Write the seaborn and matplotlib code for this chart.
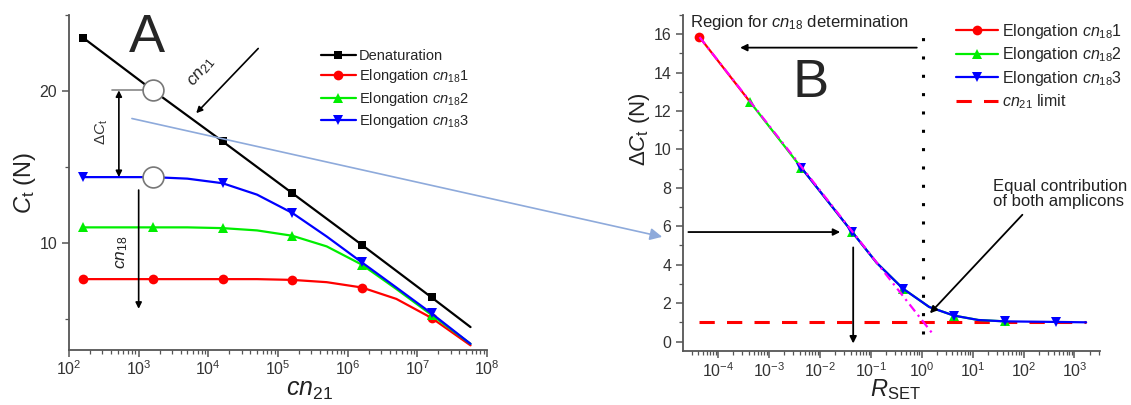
import numpy as np
import pandas as pd
import matplotlib
matplotlib.use("Agg")
import matplotlib.pyplot as plt
import seaborn as sns
from matplotlib.patches import ConnectionPatch
from matplotlib.ticker import LogLocator, MultipleLocator, NullFormatter, FixedLocator

# ---------------- Panel A data ----------------
den_x = [1.6e2, 1.6e3, 1.6e4, 1.6e5, 1.6e6, 1.6e7, 5.8e7]
den_y = [23.5, 20.05, 16.7, 13.3, 9.9, 6.45, 4.5]
den_marks = [0, 1, 2, 3, 4, 5]

el_x = [1.6e2, 1.6e3, 5e3, 1.6e4, 5e4, 1.6e5, 5e5, 1.6e6, 5e6, 1.6e7, 5.8e7]
el1_y = [7.65, 7.65, 7.65, 7.65, 7.65, 7.6, 7.45, 7.1, 6.35, 5.1, 3.3]
el2_y = [11.05, 11.05, 11.05, 11.0, 10.85, 10.5, 9.8, 8.6, 7.0, 5.3, 3.4]
el3_y = [14.35, 14.35, 14.25, 13.95, 13.2, 12.0, 10.45, 8.75, 7.1, 5.4, 3.4]
el_marks = [0, 1, 3, 5, 7, 9]

circ_x = [1.6e3, 1.6e3]
circ_y = [20.05, 14.35]

xticks_a = [1e2, 1e3, 1e4, 1e5, 1e6, 1e7, 1e8]

# ---------------- Panel B data ----------------
r1_x = [4.3e-5, 4.3e-4]
r1_y = [15.85, 12.45]
r1_marks = [0]
r2_x = [4.3e-4, 4.3e-3, 4.3e-2, 1.3e-1, 4.3e-1, 1.4, 4.3, 13, 43]
r2_y = [12.45, 9.05, 5.7, 4.1, 2.75, 1.8, 1.35, 1.12, 1.05]
r2_marks = [0, 1, 2, 4, 6, 8]
r3_x = [4.3e-3, 4.3e-2, 1.3e-1, 4.3e-1, 1.4, 4.3, 13, 43, 430, 1.7e3]
r3_y = [9.05, 5.7, 4.1, 2.75, 1.8, 1.35, 1.12, 1.05, 1.02, 1.0]
r3_marks = [0, 1, 3, 5, 7, 8]
ext_x = [4.3e-5, 1.7]
ext_y = [15.85, 0.35]
limit_x = [4.3e-5, 1.7e3]
limit_y = [1.0, 1.0]
equal_x = [1.05, 1.05]
equal_y = [0.4, 16.6]

xticks_b = [1e-4, 1e-3, 1e-2, 1e-1, 1e0, 1e1, 1e2, 1e3]

# ---------------- style ----------------
sns.set_style("ticks")
plt.rcParams['font.family'] = ['Liberation Sans', 'DejaVu Sans']
plt.rcParams['mathtext.fontset'] = 'custom'
plt.rcParams['mathtext.rm'] = 'Liberation Sans'
plt.rcParams['mathtext.it'] = 'Liberation Sans:italic'
plt.rcParams['mathtext.bf'] = 'Liberation Sans:bold'
plt.rcParams['axes.edgecolor'] = '#555555'
plt.rcParams['xtick.color'] = '#555555'
plt.rcParams['ytick.color'] = '#555555'
plt.rcParams['xtick.labelcolor'] = '#333333'
plt.rcParams['ytick.labelcolor'] = '#333333'

fig = plt.figure(figsize=(11.31, 4.05), dpi=100)
ax1 = fig.add_axes([0.061, 0.136, 0.3696, 0.827])
ax2 = fig.add_axes([0.604, 0.133, 0.3687, 0.830])

RED, GREEN, BLUE = '#ff0000', '#00ee00', '#0000ff'
lw = 1.6

# ---------------- Panel A ----------------
ax1.set_xscale('log')
sns.lineplot(x=den_x, y=den_y, ax=ax1, color='black', marker='s', markersize=6,
             markevery=den_marks, lw=lw, label='Denaturation', markeredgewidth=0)
sns.lineplot(x=el_x, y=el1_y, ax=ax1, color=RED, marker='o', markersize=7,
             markevery=el_marks, lw=lw, label=r'Elongation $\mathit{cn}_{\mathrm{18}}$1', markeredgewidth=0)
sns.lineplot(x=el_x, y=el2_y, ax=ax1, color=GREEN, marker='^', markersize=7,
             markevery=el_marks, lw=lw, label=r'Elongation $\mathit{cn}_{\mathrm{18}}$2', markeredgewidth=0)
sns.lineplot(x=el_x, y=el3_y, ax=ax1, color=BLUE, marker='v', markersize=7,
             markevery=el_marks, lw=lw, label=r'Elongation $\mathit{cn}_{\mathrm{18}}$3', markeredgewidth=0)
ax1.plot(circ_x, circ_y, ls='none', marker='o', markersize=15, mfc='white',
         mec='#777777', mew=1.2, zorder=6)

ax1.set_xlim(1e2, 1e8)
ax1.set_ylim(3, 25)
ax1.yaxis.set_major_locator(FixedLocator([10, 20]))
ax1.yaxis.set_minor_locator(FixedLocator([5, 15, 25]))
ax1.xaxis.set_major_locator(FixedLocator(xticks_a))
ax1.xaxis.set_minor_locator(LogLocator(base=10, subs=np.arange(2, 10), numticks=100))
ax1.xaxis.set_minor_formatter(NullFormatter())

# annotations A
ax1.plot([410, 1.6e3], [20.05, 20.05], color='#888888', lw=1.2, zorder=1)
ax1.annotate('', xy=(520, 14.35), xytext=(520, 20.05),
             arrowprops=dict(arrowstyle='<|-|>', color='black', lw=1.2, mutation_scale=9,
                             shrinkA=0, shrinkB=0))
ax1.text(296, 17.3, r'$\Delta C_{\mathrm{t}}$', rotation=90, ha='center', va='center',
         fontsize=11, color='#333333')
ax1.annotate('', xy=(1e3, 5.7), xytext=(1e3, 13.5),
             arrowprops=dict(arrowstyle='-|>', color='black', lw=1.2, mutation_scale=9,
                             shrinkA=0, shrinkB=0))
ax1.text(570, 9.4, r'$\mathit{cn}_{\mathrm{18}}$', rotation=90, ha='center', va='center',
         fontsize=12.5, color='#222222')
ax1.annotate('', xy=(6.7e3, 18.55), xytext=(5.2e4, 22.8),
             arrowprops=dict(arrowstyle='-|>', color='black', lw=1.2, mutation_scale=9,
                             shrinkA=0, shrinkB=0))
ax1.text(8.1e3, 21.25, r'$\mathit{cn}_{\mathrm{21}}$', rotation=50, ha='center', va='center',
         fontsize=12.5, color='#222222')
ax1.text(0.187, 0.931, 'A', transform=ax1.transAxes, fontsize=39, ha='center', va='center')

ax1.set_ylabel(r'$C_{\mathrm{t}}$ (N)', fontsize=17, color='#222222')
ax1.yaxis.set_label_coords(-0.075, 0.5)
ax1.set_xlabel(r'$\mathit{cn}_{\mathrm{21}}$', fontsize=18, color='#222222')
ax1.xaxis.set_label_coords(0.575, -0.085)

leg1 = ax1.legend(loc='upper left', bbox_to_anchor=(321 / 1131, 1 - 49 / 405),
                  bbox_transform=fig.transFigure, frameon=False, fontsize=10.5,
                  handlelength=2.4, handletextpad=0.2, labelspacing=0.3, borderaxespad=0,
                  borderpad=0)

# ---------------- Panel B ----------------
ax2.set_xscale('log')
ax2.plot(limit_x, limit_y, color=RED, ls=(0, (5, 4)), lw=2.2, zorder=1.5,
         label=r'$\mathit{cn}_{\mathrm{21}}$ limit')
sns.lineplot(x=r1_x, y=r1_y, ax=ax2, color=RED, marker='o', markersize=7,
             markevery=r1_marks, lw=lw, label=r'Elongation $\mathit{cn}_{\mathrm{18}}$1', markeredgewidth=0)
sns.lineplot(x=r2_x, y=r2_y, ax=ax2, color=GREEN, marker='^', markersize=7,
             markevery=r2_marks, lw=lw, label=r'Elongation $\mathit{cn}_{\mathrm{18}}$2', markeredgewidth=0)
sns.lineplot(x=r3_x, y=r3_y, ax=ax2, color=BLUE, marker='v', markersize=7,
             markevery=r3_marks, lw=lw, label=r'Elongation $\mathit{cn}_{\mathrm{18}}$3', markeredgewidth=0)
ax2.plot(ext_x, ext_y, color='#ff00ff', ls=(0, (4, 2, 1, 2)), lw=1.6, zorder=3.5)
ax2.plot(equal_x, equal_y, color='black', ls=(0, (1, 5)), lw=2.2, zorder=2)

ax2.set_xlim(2.05e-5, 3.2e3)
ax2.set_ylim(-0.5, 17)
ax2.yaxis.set_major_locator(MultipleLocator(2))
ax2.yaxis.set_minor_locator(MultipleLocator(1))
ax2.xaxis.set_major_locator(FixedLocator(xticks_b))
ax2.xaxis.set_minor_locator(LogLocator(base=10, subs=np.arange(2, 10), numticks=100))
ax2.xaxis.set_minor_formatter(NullFormatter())

arr = dict(arrowstyle='-|>', color='black', lw=1.3, mutation_scale=10, shrinkA=0, shrinkB=0)
ax2.annotate('', xy=(2.7e-4, 15.3), xytext=(0.8, 15.3), arrowprops=arr)
ax2.annotate('', xy=(0.025, 5.7), xytext=(2.6e-5, 5.7), arrowprops=arr, annotation_clip=False)
ax2.annotate('', xy=(0.045, -0.1), xytext=(0.045, 4.9), arrowprops=arr)
ax2.annotate('', xy=(1.45, 1.47), xytext=(95, 6.6), arrowprops=arr)
ax2.text(0.017, 0.979, r'Region for $\mathit{cn}_{\mathrm{18}}$ determination', transform=ax2.transAxes,
         fontsize=12, ha='left', va='center', color='#222222')
ax2.text(0.744, 0.467, 'Equal contribution\nof both amplicons', transform=ax2.transAxes,
         fontsize=12, ha='left', va='center', color='#222222', linespacing=1.05)
ax2.text(0.305, 0.798, 'B', transform=ax2.transAxes, fontsize=39, ha='center', va='center')

ax2.set_ylabel(r'$\Delta C_{\mathrm{t}}$ (N)', fontsize=16, color='#222222')
ax2.yaxis.set_label_coords(-0.074, 0.66)
ax2.set_xlabel(r'$\mathit{R}_{\mathrm{SET}}$', fontsize=17, color='#222222')
ax2.xaxis.set_label_coords(0.51, -0.078)

h, l = ax2.get_legend_handles_labels()
order = [1, 2, 3, 0]
ax2.legend([h[i] for i in order], [l[i] for i in order], loc='upper left',
           bbox_to_anchor=(956 / 1131, 1 - 22 / 405), bbox_transform=fig.transFigure,
           frameon=False, fontsize=11.5, handlelength=2.6, handletextpad=0.3,
           labelspacing=0.28, borderaxespad=0, borderpad=0)

for ax in (ax1, ax2):
    sns.despine(ax=ax)
    ax.spines['left'].set_linewidth(1.3)
    ax.spines['bottom'].set_linewidth(1.3)
    ax.tick_params(which='major', length=5, width=1.1, labelsize=11.5, direction='out')
    ax.tick_params(axis='x', which='major', pad=2)
    ax.tick_params(which='minor', length=3, width=0.9, direction='out')

# connecting light-blue arrow between panels
con = ConnectionPatch(xyA=(800, 18.2), coordsA=ax1.transData,
                      xyB=(10 ** -5.1, 5.45), coordsB=ax2.transData,
                      arrowstyle='-|>', color='#8eaadb', lw=1.2, mutation_scale=18,
                      shrinkA=0, shrinkB=0)
con.set_zorder(10)
fig.add_artist(con)

fig.savefig('out.png', dpi=100)
